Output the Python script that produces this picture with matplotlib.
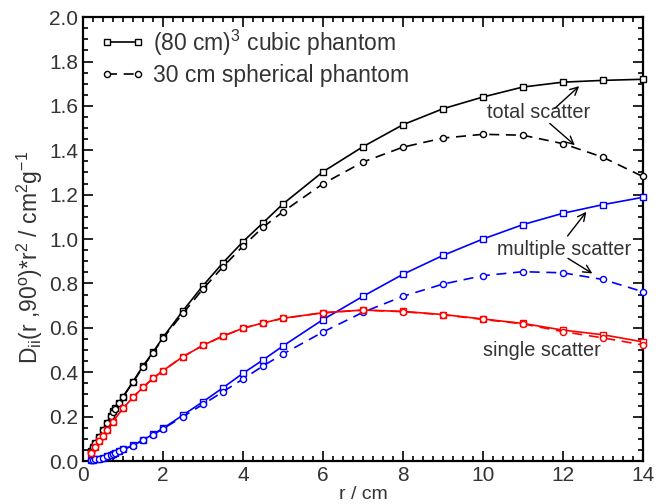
import matplotlib
matplotlib.use("Agg")
import matplotlib.pyplot as plt
from matplotlib.ticker import MultipleLocator, FormatStrFormatter

plt.rcParams['font.family'] = ['Liberation Sans', 'DejaVu Sans']
plt.rcParams['mathtext.fontset'] = 'custom'
plt.rcParams['mathtext.rm'] = 'Liberation Sans'
plt.rcParams['mathtext.it'] = 'Liberation Sans:italic'

# radial grid (cm)
r_fine = [0.2, 0.25, 0.3, 0.4, 0.5, 0.6, 0.7, 0.75, 0.8, 0.9, 1.0, 1.25, 1.5, 1.75,
          2.0, 2.5, 3.0, 3.5, 4.0, 4.5, 5, 6, 7, 8, 9, 10, 11, 12, 13, 14]
r_single = [0.2, 0.3, 0.4, 0.5, 0.6, 0.75, 1.0, 1.25, 1.5, 1.75, 2.0, 2.5, 3.0, 3.5,
            4.0, 4.5, 5, 6, 7, 8, 9, 10, 11, 12, 13, 14]

# total scatter
cube_total = [0.046, 0.062, 0.080, 0.110, 0.140, 0.173, 0.203, 0.225, 0.237, 0.263, 0.290,
              0.357, 0.428, 0.490, 0.557, 0.677, 0.790, 0.893, 0.988, 1.073, 1.158, 1.303,
              1.416, 1.515, 1.587, 1.640, 1.685, 1.707, 1.715, 1.720]
sph_total = [0.045, 0.061, 0.079, 0.109, 0.139, 0.171, 0.201, 0.222, 0.235, 0.261, 0.288,
             0.355, 0.424, 0.487, 0.553, 0.665, 0.775, 0.875, 0.968, 1.053, 1.123, 1.249,
             1.347, 1.414, 1.455, 1.472, 1.468, 1.430, 1.369, 1.282]
# multiple scatter
cube_multi = [0.004, 0.005, 0.007, 0.011, 0.015, 0.021, 0.027, 0.031, 0.035, 0.045, 0.053,
              0.070, 0.095, 0.120, 0.147, 0.207, 0.267, 0.330, 0.395, 0.455, 0.518, 0.637,
              0.742, 0.841, 0.926, 1.000, 1.065, 1.116, 1.155, 1.188]
sph_multi = [0.004, 0.005, 0.007, 0.011, 0.015, 0.021, 0.027, 0.030, 0.034, 0.044, 0.052,
             0.069, 0.094, 0.118, 0.145, 0.200, 0.255, 0.312, 0.369, 0.428, 0.482, 0.581,
             0.670, 0.742, 0.797, 0.835, 0.853, 0.848, 0.818, 0.763]
# single scatter
cube_single = [0.037, 0.063, 0.088, 0.113, 0.140, 0.178, 0.237, 0.287, 0.332, 0.372, 0.407,
               0.470, 0.521, 0.563, 0.598, 0.622, 0.643, 0.668, 0.680, 0.674, 0.660, 0.640,
               0.620, 0.590, 0.569, 0.537]
sph_single = [0.037, 0.063, 0.088, 0.113, 0.140, 0.178, 0.237, 0.287, 0.332, 0.372, 0.407,
              0.470, 0.521, 0.563, 0.598, 0.622, 0.643, 0.668, 0.680, 0.673, 0.659, 0.638,
              0.618, 0.583, 0.555, 0.523]

fig = plt.figure(figsize=(6.64, 5.04), dpi=100)
ax = fig.add_axes([0.125, 0.0853, 0.843, 0.8807])

lw = 1.2
ms = 4.4
dash = (0, (6, 4))
txtc = '#333333'

def plot(x, y, color, marker, ls, label=None):
    ax.plot(x, y, color=color, marker=marker, linestyle=ls, lw=lw, ms=ms,
            mfc='white', mec=color, mew=1.0, label=label, clip_on=False, zorder=3)

plot(r_fine, cube_total, 'black', 's', '-', '(80 cm)$^3$ cubic phantom')
plot(r_fine, sph_total, 'black', 'o', dash, '30 cm spherical phantom')
plot(r_fine, cube_multi, '#0000ff', 's', '-')
plot(r_fine, sph_multi, '#0000ff', 'o', dash)
plot(r_single, cube_single, '#ff0000', 's', '-')
plot(r_single, sph_single, '#ff0000', 'o', dash)

ax.set_xlim(0, 14)
ax.set_ylim(0, 2.0)
ax.xaxis.set_major_locator(MultipleLocator(2))
ax.xaxis.set_minor_locator(MultipleLocator(0.25))
ax.yaxis.set_major_locator(MultipleLocator(0.2))
ax.yaxis.set_minor_locator(MultipleLocator(0.05))
ax.yaxis.set_major_formatter(FormatStrFormatter('%.1f'))
ax.tick_params(which='both', direction='in', top=True, right=True, labelsize=15,
               labelcolor=txtc, width=1.2)
ax.tick_params(which='major', length=7)
ax.tick_params(which='minor', length=3.5)
for s in ax.spines.values():
    s.set_linewidth(1.6)

ax.set_xlabel('r / cm', fontsize=14, color=txtc, labelpad=1)
ax.set_ylabel(r'D$_{\rm ii}$(r ,90$^{\rm o}$)*r$^2$ / cm$^2$g$^{-1}$', fontsize=16.5,
              color=txtc, labelpad=3)
ax.yaxis.label.set_y(0.46)

leg = ax.legend(loc='upper left', frameon=False, fontsize=16.5, handlelength=1.95,
                handletextpad=0.35, labelspacing=0.3, borderaxespad=0, borderpad=0,
                numpoints=2, bbox_to_anchor=(0.031, 0.977), labelcolor=txtc)

ax.text(11.4, 1.572, 'total scatter', fontsize=14.3, color=txtc, ha='center', va='center')
ax.text(12.03, 0.955, 'multiple scatter', fontsize=14.3, color=txtc, ha='center', va='center')
ax.text(11.47, 0.497, 'single scatter', fontsize=14.3, color=txtc, ha='center', va='center')

aprops = dict(arrowstyle='->', color='black', lw=1.0, mutation_scale=14, shrinkA=0, shrinkB=0)
for (x0, y0, x1, y1) in [(11.8, 1.589, 12.41, 1.689), (11.675, 1.521, 12.3, 1.423),
                         (12.12, 1.014, 12.59, 1.123), (12.13, 0.913, 12.74, 0.845)]:
    ax.annotate('', xy=(x1, y1), xytext=(x0, y0), arrowprops=aprops)

fig.savefig('out.png', dpi=100)
